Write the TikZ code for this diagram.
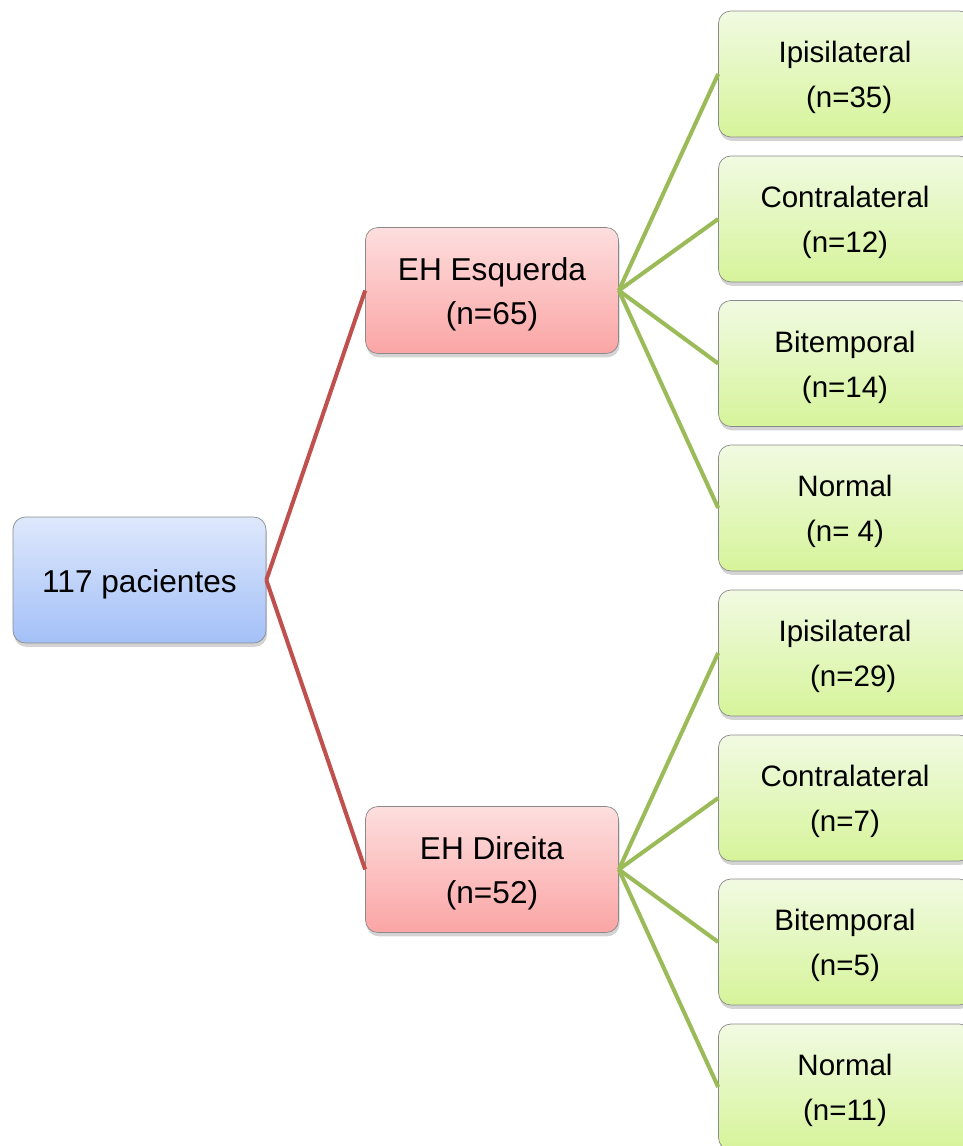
\documentclass[tikz,border=0pt]{standalone}
\usepackage{fontspec}
\setmainfont{Liberation Sans}
\usetikzlibrary{shadows}

\definecolor{roottop}{HTML}{DEE8FC}
\definecolor{rootbot}{HTML}{A3C0F7}
\definecolor{ehtop}{HTML}{FDDEDE}
\definecolor{ehbot}{HTML}{FBA5A5}
\definecolor{cltop}{HTML}{F1FAE2}
\definecolor{clbot}{HTML}{D6F49A}
\definecolor{boxline}{HTML}{8A8A8A}
\definecolor{redline}{HTML}{C0504D}
\definecolor{greenline}{HTML}{9BBB59}
\newcommand{\boxstrut}{\rule{0pt}{0.97em}}

\begin{document}
\begin{tikzpicture}
        [x=0.02cm,y=-0.02cm,
        box/.style={draw=boxline,thin,rounded corners=7pt,minimum width=5.06cm,minimum height=2.52cm,
          align=center,font=\fontsize{18}{25.5}\selectfont,
          drop shadow={shadow xshift=0.6pt,shadow yshift=-2.2pt,opacity=0.35}},
        rootbox/.style={box,top color=roottop,bottom color=rootbot},
        ehbox/.style={box,top color=ehtop,bottom color=ehbot},
        clbox/.style={box,top color=cltop,bottom color=clbot,font=\fontsize{16.8}{25.5}\selectfont}]
        \useasboundingbox (0,0) rectangle (963,1146);

        \node[rootbox] (pac) at (139.5,580) {\boxstrut 117 pacientes};
        \node[ehbox] (esq) at (492,290.5) {\boxstrut EH Esquerda\\(n=65)};
        \node[ehbox] (dir) at (492,869.5) {\boxstrut EH Direita\\(n=52)};

        % esquerda
        \node[clbox] (esq1) at (845,74) {\boxstrut Ipisilateral\\\ (n=35)};
        \node[clbox] (esq2) at (845,219) {\boxstrut Contralateral\\(n=12)};
        \node[clbox] (esq3) at (845,363.5) {\boxstrut Bitemporal\\(n=14)};
        \node[clbox] (esq4) at (845,508) {\boxstrut Normal\\(n= 4)};
        % direita
        \node[clbox] (dir1) at (845,653) {\boxstrut Ipisilateral\\\ \ (n=29)};
        \node[clbox] (dir2) at (845,798) {\boxstrut Contralateral\\(n=7)};
        \node[clbox] (dir3) at (845,942) {\boxstrut Bitemporal\\(n=5)};
        \node[clbox] (dir4) at (845,1087) {\boxstrut Normal\\(n=11)};

        % root to sides
        \draw[redline, line width=2.3pt] (pac.east) -- (esq.west);
        \draw[redline, line width=2.3pt] (pac.east) -- (dir.west);
        % sides to results
        \draw[greenline, line width=2.3pt] (esq.east) -- (esq1.west);
        \draw[greenline, line width=2.3pt] (esq.east) -- (esq2.west);
        \draw[greenline, line width=2.3pt] (esq.east) -- (esq3.west);
        \draw[greenline, line width=2.3pt] (esq.east) -- (esq4.west);
        \draw[greenline, line width=2.3pt] (dir.east) -- (dir1.west);
        \draw[greenline, line width=2.3pt] (dir.east) -- (dir2.west);
        \draw[greenline, line width=2.3pt] (dir.east) -- (dir3.west);
        \draw[greenline, line width=2.3pt] (dir.east) -- (dir4.west);
    \end{tikzpicture}
\end{document}
